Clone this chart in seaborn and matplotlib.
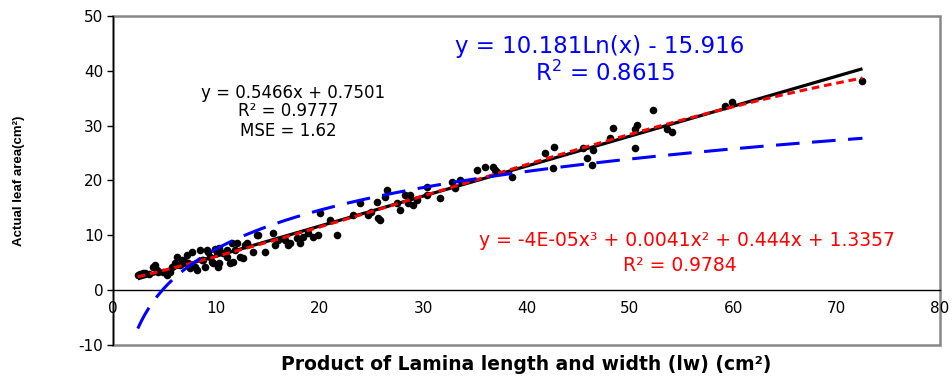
import numpy as np
import pandas as pd
import matplotlib
matplotlib.use("Agg")
import matplotlib.pyplot as plt
from matplotlib.patches import Rectangle
import seaborn as sns

# ---- data ----
lw = [2.4, 2.6, 2.9, 3.1, 3.5, 3.9, 4.1, 4.3, 4.4, 4.8, 5.2, 5.5, 5.7, 6.0, 6.2, 6.5, 6.7, 7.0, 7.2, 7.3,
      7.4, 7.6, 7.9, 8.1, 8.4, 8.6, 8.7, 8.9, 9.1, 9.2, 9.4, 9.6, 9.7, 9.9, 10.1, 10.2, 10.3, 10.3, 10.6, 11.0,
      11.0, 11.3, 11.5, 11.6, 11.8, 12.0, 12.3, 12.6, 12.8, 13.0, 13.5, 13.9, 14.0, 14.7, 15.5, 15.7, 16.0, 16.6, 16.9, 17.1,
      17.8, 18.1, 18.4, 18.9, 19.3, 19.8, 20.0, 21.0, 21.7, 23.2, 23.9, 24.7, 25.0, 25.5, 25.6, 25.8, 26.3, 26.5, 27.5, 27.8,
      28.2, 28.5, 28.7, 29.0, 29.4, 30.4, 30.4, 31.6, 32.8, 33.1, 33.6, 35.2, 36.0, 36.8, 37.0, 37.1, 38.6, 41.8, 42.6, 42.7,
      45.5, 45.9, 46.3, 46.4, 48.1, 48.4, 50.5, 50.5, 50.7, 52.2, 53.6, 54.1, 59.2, 59.9, 72.5]
leaf_area = [2.7, 2.9, 3.1, 3.1, 3.0, 4.2, 4.6, 3.7, 3.3, 3.3, 2.7, 3.3, 4.2, 5.0, 6.0, 4.6, 5.5, 5.1, 6.4, 4.9,
             4.0, 6.9, 4.2, 3.7, 7.3, 5.5, 5.5, 4.2, 7.3, 6.9, 6.0, 5.1, 4.9, 7.5, 6.8, 4.2, 7.7, 4.9, 6.8, 6.0,
             7.3, 4.9, 8.6, 5.1, 7.3, 8.6, 6.0, 5.8, 8.2, 8.6, 6.9, 10.1, 10.1, 6.9, 10.4, 8.2, 9.1, 9.1, 8.2, 8.6,
             9.5, 8.6, 9.7, 10.4, 9.7, 10.1, 14.1, 12.8, 10.1, 13.7, 15.9, 13.7, 14.3, 16.1, 13.2, 12.8, 17.0, 18.3, 15.9, 14.6,
             17.4, 15.9, 17.4, 15.5, 16.5, 18.8, 17.4, 16.8, 19.7, 18.6, 20.1, 21.9, 22.5, 22.5, 21.9, 21.6, 20.7, 25.0, 22.3, 26.1,
             26.0, 24.1, 22.9, 25.6, 27.8, 29.6, 26.0, 29.3, 30.2, 32.9, 29.3, 28.9, 33.6, 34.4, 38.2]

# trendline coefficients
lin_coef = [0.5466, 0.7501]                     # slope, intercept
cubic_coef = [-4.3e-05, 0.0041, 0.444, 1.3357]  # x^3, x^2, x, const
log_coef = [10.181, -15.916]                    # a*ln(x) + b

lin_label = ["y = 0.5466x + 0.7501", "R² = 0.9777", "MSE = 1.62"]
log_label = ["y = 10.181Ln(x) - 15.916", "R$^2$ = 0.8615"]
cubic_label = ["y = -4E-05x³ + 0.0041x² + 0.444x + 1.3357", "R² = 0.9784"]

x_ticks = [0, 10, 20, 30, 40, 50, 60, 70, 80]
y_ticks = [-10, 0, 10, 20, 30, 40, 50]

# ---- style ----
sns.set_style("white")
plt.rcParams["font.family"] = ["DejaVu Sans"]
plt.rcParams["lines.scale_dashes"] = False
plt.rcParams["axes.unicode_minus"] = False
plt.rcParams["text.color"] = "black"
plt.rcParams["axes.labelcolor"] = "black"
plt.rcParams["xtick.color"] = "black"
plt.rcParams["ytick.color"] = "black"

fig = plt.figure(figsize=(9.52, 3.77), dpi=100)
ax = fig.add_axes([0.1187, 0.085, 0.9874 - 0.1187, 0.9576 - 0.085])

df = pd.DataFrame({"lw": lw, "area": leaf_area})
sns.scatterplot(data=df, x="lw", y="area", ax=ax, color="black", s=30,
                edgecolor="black", linewidth=0, zorder=3, legend=False)

xs = np.linspace(min(lw), max(lw), 400)
y_lin = np.polyval(lin_coef, xs)
y_cub = np.polyval(cubic_coef, xs)
y_log = log_coef[0] * np.log(xs) + log_coef[1]

ax.plot(xs, y_lin, color="black", lw=2.3, zorder=4, solid_capstyle="butt")
l_red, = ax.plot(xs, y_cub, color="#ff0000", lw=2.2, zorder=5)
l_red.set_dashes((5.5, 3.5))
l_blue, = ax.plot(xs, y_log, color="#0000ff", lw=2.2, zorder=5)
l_blue.set_dashes((17, 9))

ax.set_xlim(0, 80)
ax.set_ylim(-10, 50)
ax.set_xticks(x_ticks)
ax.set_yticks(y_ticks)

# spines: left black, x axis at y=0, grey frame around the plot area
for s in ["top", "right"]:
    ax.spines[s].set_visible(False)
ax.spines["left"].set_color("black")
ax.spines["left"].set_linewidth(1.0)
ax.spines["bottom"].set_position(("data", 0))
ax.spines["bottom"].set_color("black")
ax.spines["bottom"].set_linewidth(1.0)
ax.add_patch(Rectangle((0, 0), 1, 1, transform=ax.transAxes, fill=False,
                       edgecolor="#888888", lw=1.8, clip_on=False, zorder=0))

ax.tick_params(axis="y", direction="out", length=4, width=1, color="black",
               labelcolor="black", labelsize=11, pad=3, left=True)
ax.tick_params(axis="x", direction="out", length=0, labelcolor="black",
               labelsize=11, pad=8, bottom=True)

ax.set_xlabel("")
fig.text(526 / 952, 1 - 365 / 377, "Product of Lamina length and width (lw) (cm²)",
         ha="center", va="center", fontsize=13.5, fontweight="bold", color="black")
ax.set_ylabel("Actual leaf area(cm²)", fontsize=9.5, fontweight="bold", color="black",
              family=["Liberation Sans", "DejaVu Sans"])
ax.yaxis.set_label_coords(-0.106, 0.5)

# equations
ax.text(17.4, 36.0, lin_label[0], ha="center", va="center", fontsize=12, color="black")
ax.text(17.0, 32.6, lin_label[1], ha="center", va="center", fontsize=12, color="black")
ax.text(17.0, 29.1, lin_label[2], ha="center", va="center", fontsize=12, color="black")

ax.text(47.1, 44.4, log_label[0], ha="center", va="center", fontsize=16.5, color="#0000ff")
ax.text(47.6, 39.6, log_label[1], ha="center", va="center", fontsize=16.5, color="#0000ff")

ax.text(55.5, 9.1, cubic_label[0], ha="center", va="center", fontsize=13.5, color="#ff0000")
ax.text(54.8, 4.5, cubic_label[1], ha="center", va="center", fontsize=13.5, color="#ff0000")

fig.savefig("out.png", dpi=100)
